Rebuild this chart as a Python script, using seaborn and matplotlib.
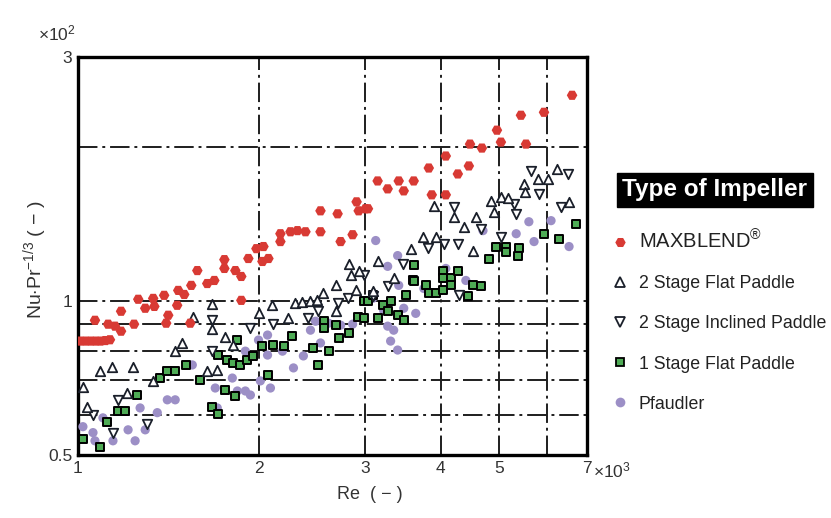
import numpy as np
import pandas as pd
import matplotlib
matplotlib.use("Agg")
import matplotlib.pyplot as plt
import seaborn as sns
from matplotlib.lines import Line2D
from matplotlib.ticker import FixedLocator, NullLocator, FixedFormatter

# ---------------- data (Re x10^3, Nu*Pr^-1/3 x10^2) ----------------
maxblend_re = [1.01, 1.03, 1.05, 1.07, 1.09, 1.11, 1.13,
               1.067, 1.122, 1.152, 1.179, 1.179, 1.239, 1.259, 1.293, 1.333, 1.339,
               1.390, 1.412, 1.401, 1.461, 1.467, 1.501, 1.536, 1.542, 1.578, 1.639,
               1.684, 1.750, 1.750, 1.825, 1.867, 1.867, 1.918, 1.978, 2.032, 2.071,
               2.024, 2.168, 2.168, 2.253, 2.314, 2.386, 2.527, 2.527, 2.698, 2.729,
               2.857, 2.901, 2.924, 3.002, 3.03, 3.144, 3.267, 3.408, 3.474, 3.609,
               3.823, 3.867, 4.080, 4.080, 4.272, 4.456, 4.476, 4.684, 4.961, 5.037,
               5.438, 5.544, 5.939, 6.612]
maxblend_nu = [0.835, 0.835, 0.835, 0.835, 0.835, 0.837, 0.84,
               0.917, 0.901, 0.893, 0.873, 0.955, 0.901, 1.008, 0.968, 1.012, 0.976,
               1.026, 0.938, 0.905, 0.981, 1.049, 1.030, 0.905, 1.073, 1.147, 1.082,
               1.097, 1.205, 1.158, 1.147, 1.117, 1.003, 1.211, 1.266, 1.278, 1.211,
               1.195, 1.354, 1.307, 1.366, 1.373, 1.366, 1.366, 1.501, 1.481, 1.307,
               1.348, 1.563, 1.501, 1.515, 1.515, 1.717, 1.657, 1.717, 1.642, 1.717,
               1.820, 1.613, 1.613, 1.921, 1.772, 1.837, 2.027, 1.991, 2.158, 2.045,
               2.308, 2.027, 2.339, 2.525]

flat2_re = [1.019, 1.035, 1.088, 1.139, 1.234, 1.206, 1.333, 1.450, 1.490, 1.554,
            1.671, 1.671, 1.756, 1.811, 1.639, 1.703, 1.994, 2.103, 2.236, 2.296,
            2.358, 2.432, 2.490, 2.547, 2.678, 2.678, 2.813, 2.835, 2.924, 2.890,
            3.085, 3.144, 3.343, 3.568, 3.738, 3.928, 3.898, 4.208, 4.372, 4.525,
            4.578, 4.848, 4.905, 5.037, 5.175, 5.502, 5.523, 5.807, 6.033, 6.245,
            6.536]
flat2_nu = [0.679, 0.621, 0.730, 0.743, 0.743, 0.661, 0.698, 0.798, 0.828, 0.929,
            0.985, 0.881, 0.850, 0.820, 0.730, 0.733, 0.946, 0.981, 0.925, 0.990,
            0.994, 0.999, 1.003, 1.035, 1.073, 0.955, 1.184, 1.122, 1.147, 1.049,
            1.044, 1.195, 1.107, 1.266, 1.336, 1.336, 1.536, 1.461, 1.397, 1.255,
            1.461, 1.570, 1.496, 1.598, 1.591, 1.695, 1.633, 1.733, 1.733, 1.812,
            1.563]

incl2_re = [1.059, 1.143, 1.166, 1.303, 1.671, 1.671, 1.933, 2.111, 2.413, 2.499,
            2.698, 2.803, 2.980, 3.085, 3.267, 3.461, 3.812, 4.050, 4.208, 4.272,
            4.288, 4.666, 5.037, 5.298, 5.340, 5.651, 5.826, 6.339, 6.515]
incl2_nu = [0.599, 0.553, 0.641, 0.576, 0.798, 0.917, 0.885, 0.901, 0.925, 0.955,
            0.990, 1.012, 1.122, 1.021, 1.068, 1.184, 1.272, 1.295, 1.529, 1.295,
            1.026, 1.385, 1.336, 1.549, 1.481, 1.796, 1.620, 1.529, 1.772]

flat1_re = [1.019, 1.088, 1.117, 1.166, 1.197, 1.254, 1.369, 1.407, 1.450, 1.513,
            1.596, 1.671, 1.710, 1.710, 1.756, 1.770, 1.811, 1.825, 1.839, 1.860,
            1.910, 1.956, 2.024, 2.064, 2.111, 2.194, 2.270, 2.451, 2.499, 2.557,
            2.557, 2.606, 2.678, 2.708, 2.813, 2.912, 2.980, 2.980, 3.036, 3.085,
            3.144, 3.205, 3.267, 3.304, 3.394, 3.474, 3.501, 3.596, 3.609, 3.609,
            3.782, 3.823, 3.928, 4.034, 4.034, 4.034, 4.159, 4.159, 4.272, 4.440,
            4.525, 4.666, 4.813, 4.942, 5.135, 5.135, 5.403, 5.382, 5.939, 6.290,
            6.715]
flat1_nu = [0.538, 0.519, 0.581, 0.610, 0.610, 0.655, 0.707, 0.730, 0.730, 0.750,
            0.701, 0.621, 0.602, 0.784, 0.670, 0.767, 0.757, 0.652, 0.839, 0.750,
            0.767, 0.781, 0.817, 0.717, 0.820, 0.817, 0.854, 0.809, 0.750, 0.913,
            0.885, 0.798, 0.897, 0.846, 0.865, 0.929, 0.925, 0.999, 0.999, 1.026,
            0.925, 0.981, 0.955, 0.999, 0.938, 0.917, 1.026, 1.097, 1.174, 1.092,
            1.073, 1.035, 1.035, 1.147, 1.107, 1.049, 1.107, 1.073, 1.143, 1.021,
            1.073, 1.068, 1.211, 1.278, 1.278, 1.249, 1.272, 1.227, 1.354, 1.324,
            1.416]

pfaudler_re = [1.019, 1.059, 1.067, 1.100, 1.143, 1.211, 1.244, 1.268, 1.293, 1.354,
               1.407, 1.450, 1.548, 1.690, 1.703, 1.804, 1.839, 1.896, 1.933, 1.896,
               1.994, 2.008, 2.064, 2.064, 2.087, 2.185, 2.279, 2.367, 2.432, 2.480,
               2.527, 2.606, 2.729, 2.857, 3.085, 3.121, 3.217, 3.267, 3.267, 3.304,
               3.343, 3.394, 3.394, 3.408, 3.474, 3.637, 3.752, 4.080, 4.405, 4.703,
               5.340, 5.605, 5.717, 6.101, 6.536]
pfaudler_nu = [0.568, 0.553, 0.533, 0.591, 0.533, 0.560, 0.533, 0.618, 0.560, 0.605,
               0.641, 0.641, 0.750, 0.676, 0.618, 0.707, 0.667, 0.667, 0.655, 0.798,
               0.839, 0.698, 0.858, 0.784, 0.676, 0.798, 0.740, 0.781, 0.877, 0.913,
               0.828, 0.905, 0.897, 0.901, 1.012, 1.313, 0.959, 0.893, 1.169, 0.835,
               0.877, 1.227, 0.802, 1.073, 0.968, 0.946, 1.058, 1.158, 1.097, 1.373,
               1.354, 1.429, 1.307, 1.436, 1.278]

labels = ["MAXBLEND", "2 Stage Flat Paddle", "2 Stage Inclined Paddle",
          "1 Stage Flat Paddle", "Pfaudler"]
x_ticks = [1, 2, 3, 4, 5, 6, 7]
x_ticklabels = ["1", "2", "3", "4", "5", "", "7"]
y_ticks = [0.5, 0.6, 0.7, 0.8, 0.9, 1, 2, 3]
y_ticklabels = ["0.5", "", "", "", "", "1", "", "3"]

# ---------------- styling ----------------
sns.set_style("white")
plt.rcParams["font.family"] = ["Liberation Sans", "DejaVu Sans"]
plt.rcParams["mathtext.fontset"] = "custom"
plt.rcParams["mathtext.rm"] = "Liberation Sans"
plt.rcParams["mathtext.it"] = "Liberation Sans"

RED = "#d83a34"
PURPLE = "#9c8fc6"
GREEN = "#4eab55"
EDGE = "#1a1f2a"
TXT = "#333333"

fig = plt.figure(figsize=(8.31, 5.18), dpi=100)
ax = fig.add_axes([78/831, 1-455/518, (587-78)/831, (455-57)/518])

series = [
    dict(x=pfaudler_re, y=pfaudler_nu, marker="o", s=44, color=PURPLE, edgecolor="none", linewidth=0),
    dict(x=flat1_re, y=flat1_nu, marker="s", s=38, color=GREEN, edgecolor="black", linewidth=1.4),
    dict(x=incl2_re, y=incl2_nu, marker="v", s=46, color="white", edgecolor=EDGE, linewidth=1.3),
    dict(x=flat2_re, y=flat2_nu, marker="^", s=46, color="white", edgecolor=EDGE, linewidth=1.3),
    dict(x=maxblend_re, y=maxblend_nu, marker="H", s=58, color=RED, edgecolor="none", linewidth=0),
]
for i, sd in enumerate(series):
    df = pd.DataFrame({"Re": sd["x"], "Nu": sd["y"]})
    sns.scatterplot(data=df, x="Re", y="Nu", ax=ax, marker=sd["marker"], s=sd["s"],
                    color=sd["color"], edgecolor=sd["edgecolor"], linewidth=sd["linewidth"],
                    legend=False, zorder=3 + i)

ax.set_xscale("log")
ax.set_yscale("log")
ax.set_xlim(1, 7)
ax.set_ylim(0.5, 3)

ax.xaxis.set_major_locator(FixedLocator(x_ticks))
ax.xaxis.set_major_formatter(FixedFormatter(x_ticklabels))
ax.xaxis.set_minor_locator(NullLocator())
ax.yaxis.set_major_locator(FixedLocator(y_ticks))
ax.yaxis.set_major_formatter(FixedFormatter(y_ticklabels))
ax.yaxis.set_minor_locator(NullLocator())
ax.tick_params(axis="both", length=0, labelsize=12.5, colors=TXT, pad=4)

ax.grid(True, which="major", color="#1e1e1e", linewidth=1.4,
        linestyle=(0, (10, 2.5, 1.5, 2.5)))
ax.set_axisbelow(True)
for sp in ax.spines.values():
    sp.set_linewidth(2.4)
    sp.set_color("black")
    sp.set_visible(True)

ax.set_xlabel("Re  ( − )", fontsize=13, color=TXT)
ax.xaxis.set_label_coords(0.574, -0.078)
ax.set_ylabel(r"Nu$\cdot$Pr$^{-1/3}$ ( − )", fontsize=14, color=TXT)
ax.yaxis.set_label_coords(-0.056, 0.49)

ax.annotate(r"×10$^{3}$", xy=(7, 0.5), xycoords="data", xytext=(4, -4),
            textcoords="offset points", ha="left", va="top", fontsize=12.5, color=TXT)
ax.annotate(r"×10$^{2}$", xy=(1, 3), xycoords="data", xytext=(-29, 10),
            textcoords="offset points", ha="left", va="bottom", fontsize=12.5, color=TXT)

# ---------------- legend ----------------
fig.text(715/831, 1-190/518, "Type of Impeller", ha="center", va="center",
         fontsize=17.5, fontweight="bold", color="white",
         bbox=dict(boxstyle="square,pad=0.24", facecolor="black", edgecolor="black"))

handles = [
    Line2D([], [], linestyle="none", marker="H", markersize=7.5, markerfacecolor=RED, markeredgecolor="none"),
    Line2D([], [], linestyle="none", marker="^", markersize=7, markerfacecolor="white", markeredgecolor=EDGE, markeredgewidth=1.3),
    Line2D([], [], linestyle="none", marker="v", markersize=7, markerfacecolor="white", markeredgecolor=EDGE, markeredgewidth=1.3),
    Line2D([], [], linestyle="none", marker="s", markersize=6.2, markerfacecolor=GREEN, markeredgecolor="black", markeredgewidth=1.3),
    Line2D([], [], linestyle="none", marker="o", markersize=7, markerfacecolor=PURPLE, markeredgecolor="none"),
]
leg_labels = [r"MAXBLEND$^{\circledR}$"] + labels[1:]
leg = ax.legend(handles, leg_labels, loc="upper left",
                bbox_to_anchor=(613/831, 1-229/518), bbox_transform=fig.transFigure,
                frameon=False, fontsize=12.8, labelspacing=1.3,
                handlelength=0.8, handletextpad=0.65, borderpad=0, borderaxespad=0)
for t in leg.get_texts():
    t.set_color("#222222")
leg.get_texts()[0].set_fontsize(14.5)

fig.savefig("out.png", dpi=100, facecolor="white")
